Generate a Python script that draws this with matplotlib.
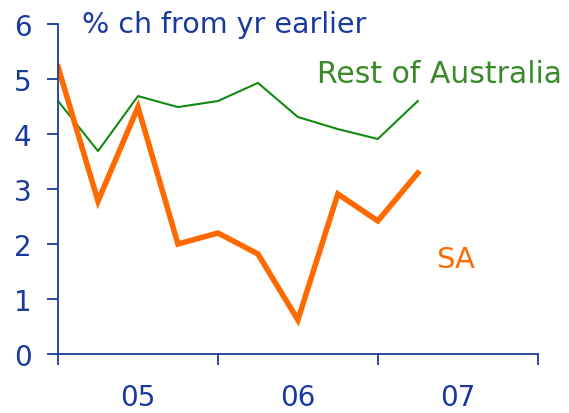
import numpy as np
import matplotlib.pyplot as plt

# quarterly data, 2005Q1 .. 2007Q2
quarters = np.arange(10)
sa = [5.22, 2.78, 4.49, 2.0, 2.2, 1.82, 0.62, 2.91, 2.42, 3.29]
rest_aus = [4.6, 3.69, 4.69, 4.49, 4.6, 4.93, 4.31, 4.09, 3.91, 4.6]
years = ['05', '06', '07']

blue = '#1a3a9c'
orange = '#ff6a00'
green = '#118a11'

fig = plt.figure(figsize=(5.69, 4.14), dpi=100)
ax = fig.add_axes([0.102, 0.1425, 0.843, 0.797])

ax.plot(quarters, rest_aus, color=green, linewidth=1.5)
ax.plot(quarters, sa, color=orange, linewidth=4, solid_joinstyle='miter')

ax.set_xlim(0, 12)
ax.set_ylim(0, 6)
ax.set_xticks([0, 4, 8, 12])
ax.set_xticklabels([])
ax.set_xticks([2, 6, 10], minor=True)
ax.set_xticklabels(years, minor=True)
ax.tick_params(axis='x', which='major', direction='out', length=8, width=1.3, color=blue)
ax.tick_params(axis='x', which='minor', length=0, pad=21, labelsize=20, labelcolor=blue)
ax.set_yticks(range(7))
ax.tick_params(axis='y', direction='out', length=8, width=1.3, color=blue,
               labelsize=20, labelcolor=blue, pad=11)

for s in ['top', 'right']:
    ax.spines[s].set_visible(False)
for s in ['left', 'bottom']:
    ax.spines[s].set_color(blue)
    ax.spines[s].set_linewidth(1.3)

ax.text(0.6, 5.85, '% ch from yr earlier', color=blue, fontsize=20.5, va='baseline')
ax.text(12.6, 4.95, 'Rest of Australia', color='#3a8a2a', fontsize=21.5,
        ha='right', va='baseline')
ax.text(9.45, 1.58, 'SA', color=orange, fontsize=21, va='baseline')

plt.savefig('out.png')
